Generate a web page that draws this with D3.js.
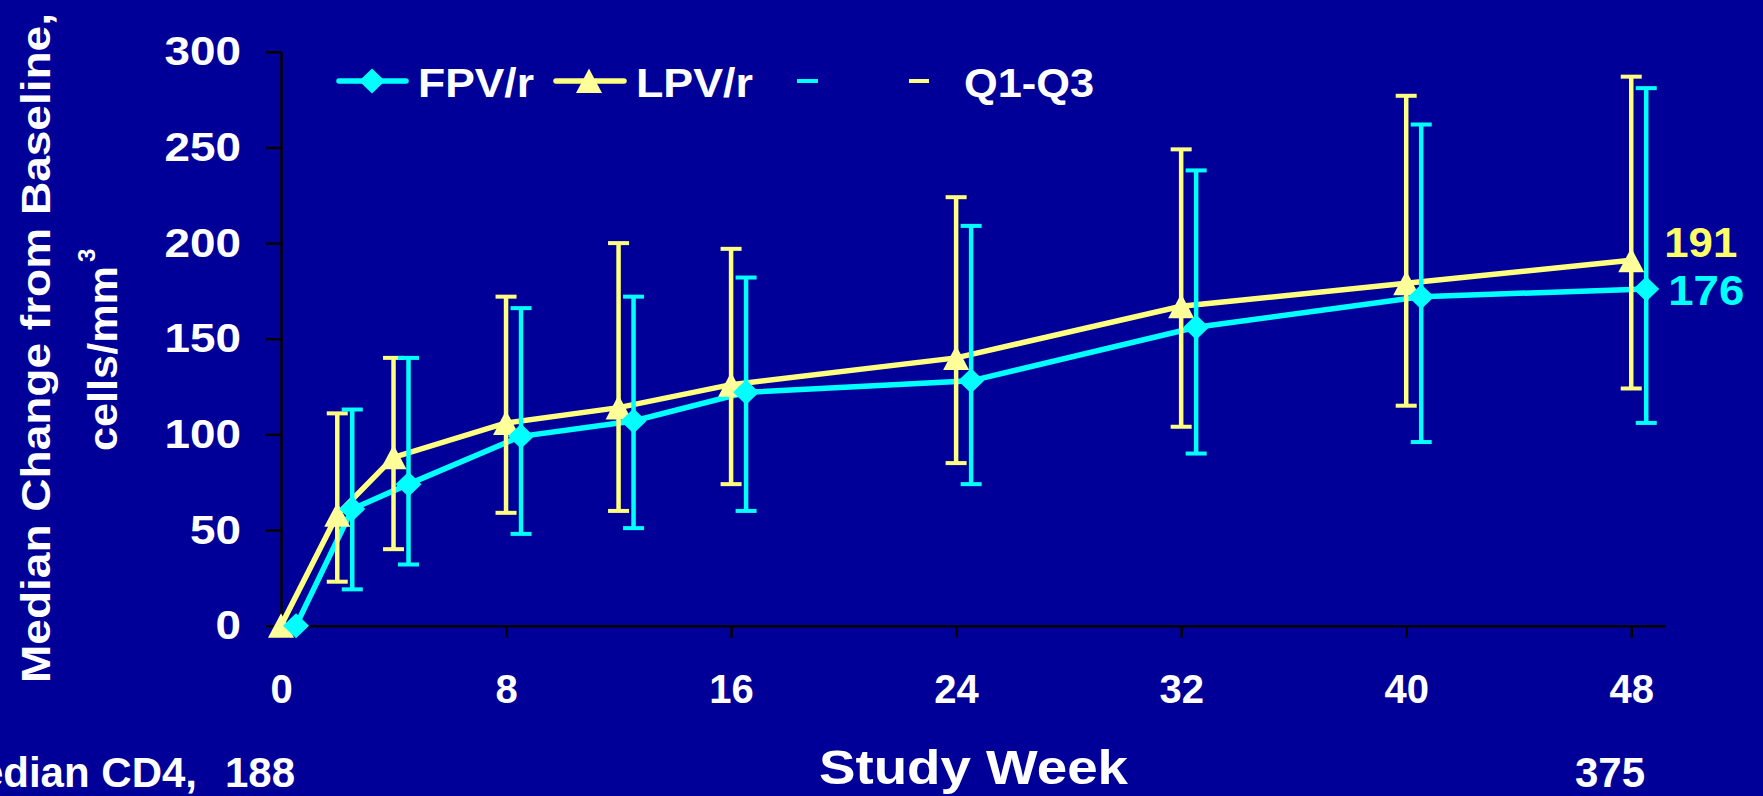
<!DOCTYPE html>
<html>
<head>
<meta charset="utf-8">
<script src="https://cdn.jsdelivr.net/npm/d3@7"></script>
<style>
  body { margin: 0; background: #000099; }
  text { font-family: "Liberation Sans", Arial, sans-serif; font-weight: bold; }
</style>
</head>
<body>
<div id="chart"></div>
<script>
// study weeks and Q1 / median / Q3 change in CD4 count
const weeks = [0, 2, 4, 8, 12, 16, 24, 32, 40, 48];
const fpvMedian = [0, 61, 74, 99, 107, 122, 128, 156, 172, 176];
const fpvQ1 = [0, 19, 32, 48, 51, 60, 74, 90, 96, 106];
const fpvQ3 = [0, 113, 140, 166, 172, 182, 209, 238, 262, 281];
const lpvMedian = [0, 58, 88, 106, 114, 126, 140, 167, 179, 191];
const lpvQ1 = [0, 23, 40, 59, 60, 74, 85, 104, 115, 124];
const lpvQ3 = [0, 111, 140, 172, 200, 197, 224, 249, 277, 287];

const xTicks = [0, 8, 16, 24, 32, 40, 48];
const yTicks = [0, 50, 100, 150, 200, 250, 300];
const legendLabels = ["FPV/r", "LPV/r", "Q1-Q3"];
const baselineCD4 = ["188", "375"];

const width = 1763, height = 796;
const cyan = "#00ffff", yellow = "#ffff80";

let x = d3.scaleLinear().domain([0, 49.2]).range([281, 1665]);
let y = d3.scaleLinear().domain([0, 300]).range([625.7, 51.8]);

let svg = d3.select("#chart").append("svg")
  .attr("width", width)
  .attr("height", height)
  .style("display", "block");

svg.append("rect")
  .attr("width", width)
  .attr("height", height)
  .attr("fill", "#000099");

function diamond(cx, cy) {
  return "M" + cx + "," + (cy - 12.5) + "L" + (cx + 13) + "," + cy +
    "L" + cx + "," + (cy + 12.5) + "L" + (cx - 13) + "," + cy + "Z";
}
function triangle(cx, cy) {
  return "M" + cx + "," + (cy - 12.5) + "L" + (cx + 13) + "," + (cy + 12) +
    "L" + (cx - 13) + "," + (cy + 12) + "Z";
}

// axes
let xAxis = svg.append("g")
  .attr("transform", "translate(0," + y(0) + ")")
  .call(d3.axisBottom(x).tickValues(xTicks).tickSize(12).tickSizeOuter(0));
xAxis.selectAll("text")
  .attr("y", 77).attr("dy", 0)
  .attr("fill", "#fff").attr("font-size", 40);

let yAxis = svg.append("g")
  .attr("transform", "translate(" + x(0) + ",0)")
  .call(d3.axisLeft(y).tickValues(yTicks).tickSize(15).tickPadding(25).tickSizeOuter(0));
yAxis.selectAll("text")
  .attr("fill", "#fff").attr("font-size", 41)
  .attr("textLength", function(d) { return String(d).length * 25.5; })
  .attr("lengthAdjust", "spacingAndGlyphs");

svg.selectAll(".domain, .tick line")
  .attr("stroke", "#000").attr("stroke-width", 2.5);

let series = [
  { name: legendLabels[1], med: lpvMedian, q1: lpvQ1, q3: lpvQ3, color: yellow, fill: "#ffff99", dx: 0, shape: triangle },
  { name: legendLabels[0], med: fpvMedian, q1: fpvQ1, q3: fpvQ3, color: cyan, fill: cyan, dx: 15, shape: diamond }
];

let line = d3.line();

series.forEach(function(s) {
  let pts = weeks.map(function(w, i) { return [x(w) + s.dx, y(s.med[i])]; });
  svg.append("path")
    .attr("d", line(pts))
    .attr("fill", "none")
    .attr("stroke", s.color)
    .attr("stroke-width", 5.5);
});

series.forEach(function(s) {
  weeks.forEach(function(w, i) {
    if (s.q1[i] === s.q3[i]) return;
    let cx = x(w) + s.dx;
    svg.append("line")
      .attr("x1", cx).attr("x2", cx)
      .attr("y1", y(s.q1[i])).attr("y2", y(s.q3[i]))
      .attr("stroke", s.color).attr("stroke-width", 4.5);
    [s.q1[i], s.q3[i]].forEach(function(v) {
      svg.append("line")
        .attr("x1", cx - 10.5).attr("x2", cx + 10.5)
        .attr("y1", y(v)).attr("y2", y(v))
        .attr("stroke", s.color).attr("stroke-width", 4);
    });
  });
});

series.forEach(function(s) {
  svg.selectAll(null)
    .data(weeks)
    .enter().append("path")
    .attr("d", function(w, i) { return s.shape(x(w) + s.dx, y(s.med[i])); })
    .attr("fill", s.fill);
});

// end values
svg.append("text")
  .attr("x", x(48) + 33).attr("y", y(lpvMedian[9]) - 3)
  .attr("font-size", 42).attr("fill", "#ffff66")
  .attr("textLength", 73).attr("lengthAdjust", "spacingAndGlyphs")
  .text(lpvMedian[9]);
svg.append("text")
  .attr("x", x(48) + 37).attr("y", y(fpvMedian[9]) + 16)
  .attr("font-size", 42).attr("fill", cyan)
  .attr("textLength", 76).attr("lengthAdjust", "spacingAndGlyphs")
  .text(fpvMedian[9]);

// legend
let lg = svg.append("g");
lg.append("line").attr("x1", 339).attr("x2", 406).attr("y1", 81).attr("y2", 81)
  .attr("stroke", cyan).attr("stroke-width", 5.5).attr("stroke-linecap", "round");
lg.append("path").attr("d", diamond(372, 81)).attr("fill", cyan);
lg.append("text").attr("x", 418).attr("y", 97).attr("font-size", 40).attr("fill", "#fff")
  .attr("textLength", 116).attr("lengthAdjust", "spacingAndGlyphs").text(legendLabels[0]);
lg.append("line").attr("x1", 556).attr("x2", 624).attr("y1", 81).attr("y2", 81)
  .attr("stroke", yellow).attr("stroke-width", 5.5).attr("stroke-linecap", "round");
lg.append("path").attr("d", triangle(589, 81)).attr("fill", "#ffff99");
lg.append("text").attr("x", 636).attr("y", 97).attr("font-size", 40).attr("fill", "#fff")
  .attr("textLength", 117).attr("lengthAdjust", "spacingAndGlyphs").text(legendLabels[1]);
lg.append("line").attr("x1", 797).attr("x2", 818).attr("y1", 81).attr("y2", 81)
  .attr("stroke", cyan).attr("stroke-width", 4);
lg.append("line").attr("x1", 909).attr("x2", 929).attr("y1", 81).attr("y2", 81)
  .attr("stroke", yellow).attr("stroke-width", 4);
lg.append("text").attr("x", 964).attr("y", 97).attr("font-size", 40).attr("fill", "#fff")
  .attr("textLength", 130).attr("lengthAdjust", "spacingAndGlyphs").text(legendLabels[2]);

// axis titles
svg.append("text")
  .attr("transform", "translate(50,348) rotate(-90)")
  .attr("text-anchor", "middle")
  .attr("font-size", 40).attr("fill", "#fff")
  .attr("textLength", 670).attr("lengthAdjust", "spacingAndGlyphs")
  .text("Median Change from Baseline,");
svg.append("text")
  .attr("transform", "translate(117,451) rotate(-90)")
  .attr("font-size", 40).attr("fill", "#fff")
  .attr("textLength", 185).attr("lengthAdjust", "spacingAndGlyphs")
  .text("cells/mm");
svg.append("text")
  .attr("transform", "translate(95,262) rotate(-90)")
  .attr("font-size", 24).attr("fill", "#fff")
  .text("3");

svg.append("text")
  .attr("x", 819).attr("y", 784)
  .attr("font-size", 48).attr("fill", "#fff")
  .attr("textLength", 309).attr("lengthAdjust", "spacingAndGlyphs")
  .text("Study Week");

// baseline CD4 row (left part runs off the slide as in the original)
svg.append("text")
  .attr("x", 197).attr("y", 787).attr("text-anchor", "end")
  .attr("font-size", 42).attr("fill", "#fff")
  .text("Median CD4,");
svg.append("text")
  .attr("x", 225).attr("y", 787)
  .attr("font-size", 42).attr("fill", "#fff")
  .text(baselineCD4[0]);
svg.append("text")
  .attr("x", 1575).attr("y", 787)
  .attr("font-size", 42).attr("fill", "#fff")
  .text(baselineCD4[1]);
</script>
</body>
</html>
